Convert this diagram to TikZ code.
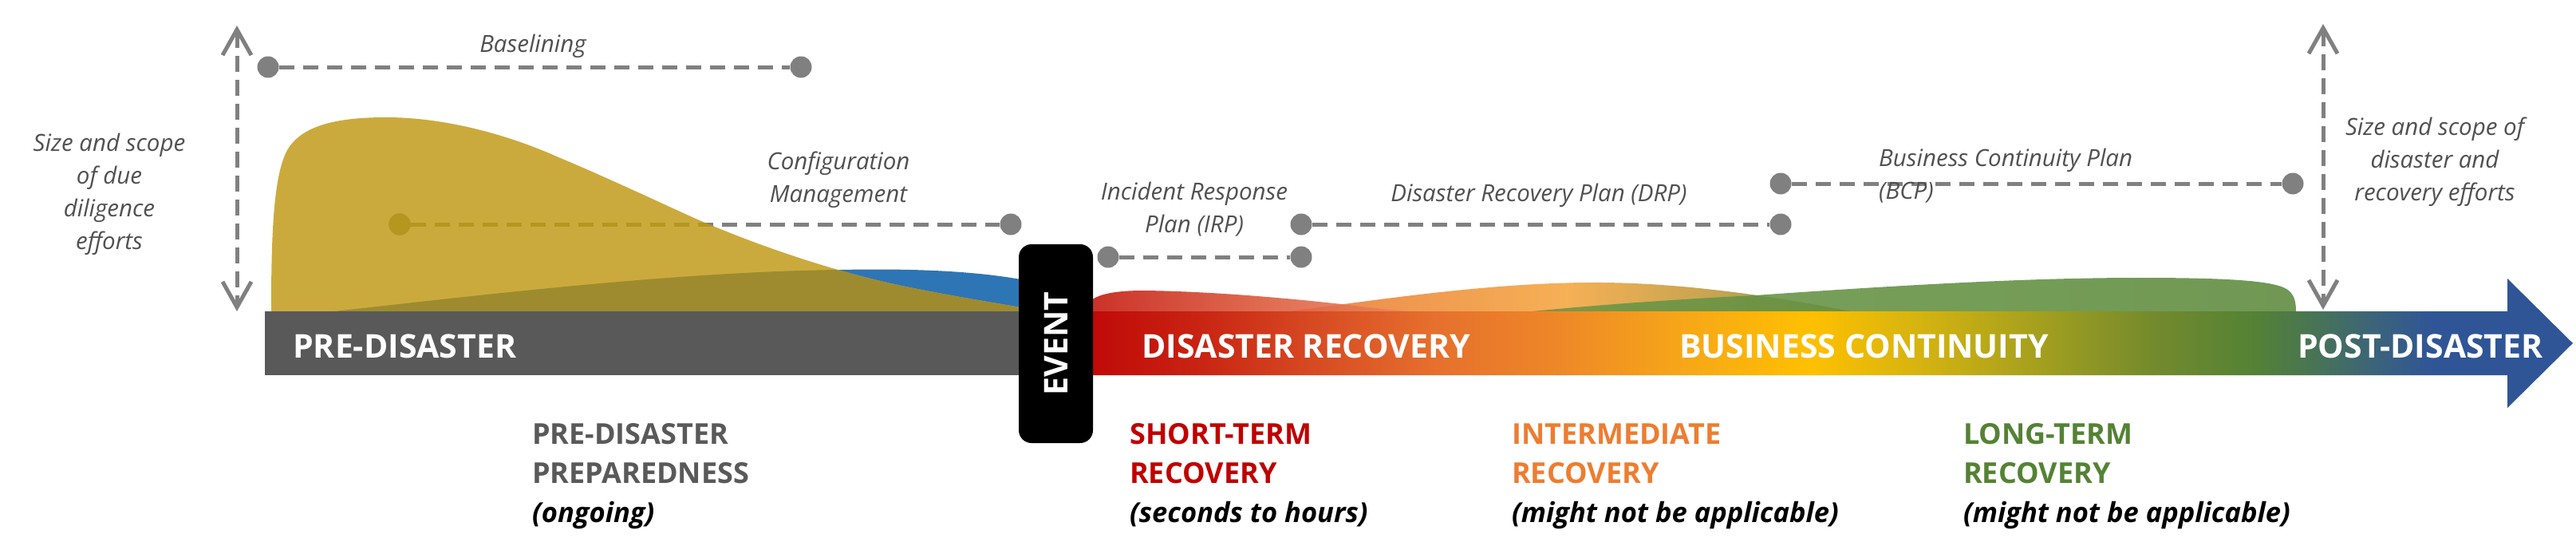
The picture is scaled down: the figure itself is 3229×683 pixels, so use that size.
\documentclass[tikz,border=0pt]{standalone}
\usepackage{fontspec}
\setmainfont{Open Sans}
\usetikzlibrary{arrows.meta}
\definecolor{txtgray}{RGB}{89,89,89}
\definecolor{lblgray}{RGB}{80,80,80}
\definecolor{dashgray}{RGB}{128,128,128}
\definecolor{yelfill}{RGB}{203,170,61}
\definecolor{olivefill}{RGB}{158,139,47}
\definecolor{goldline}{RGB}{181,150,31}
\definecolor{bluefill}{RGB}{46,117,182}
\definecolor{barred}{RGB}{192,0,0}
\definecolor{txtorange}{RGB}{237,125,49}
\definecolor{txtgreen}{RGB}{84,130,53}
\definecolor{gsA}{RGB}{192,10,8}
\definecolor{gsB}{RGB}{200,35,18}
\definecolor{gsC}{RGB}{215,75,35}
\definecolor{gsD}{RGB}{230,112,45}
\definecolor{gsE}{RGB}{238,135,40}
\definecolor{gsF}{RGB}{246,165,25}
\definecolor{gsG}{RGB}{255,192,0}
\definecolor{gsH}{RGB}{215,180,15}
\definecolor{gsI}{RGB}{160,158,32}
\definecolor{gsJ}{RGB}{115,138,45}
\definecolor{gsK}{RGB}{84,130,53}
\definecolor{gsL}{RGB}{72,116,85}
\definecolor{gsM}{RGB}{58,98,125}
\definecolor{gsN}{RGB}{47,85,151}
\pgfdeclarehorizontalshading{barshade}{100bp}{color(0bp)=(gsA); color(26.94bp)=(gsA); color(30.31bp)=(gsB); color(34.20bp)=(gsC); color(38.08bp)=(gsD); color(41.97bp)=(gsE); color(45.86bp)=(gsF); color(50.21bp)=(gsG); color(53.63bp)=(gsH); color(57.95bp)=(gsI); color(61.40bp)=(gsJ); color(64.64bp)=(gsK); color(66.58bp)=(gsL); color(68.73bp)=(gsM); color(70.47bp)=(gsN); color(100bp)=(gsN)}
\newcommand{\yelshape}{(340,392) -- (340,390) .. controls (340,300) and (342,215) .. (362,185) .. controls (380,158) and (420,147) .. (484,147) .. controls (560,147) and (640,170) .. (700,197) .. controls (760,222) and (830,255) .. (870,273) .. controls (950,308) and (1050,342) .. (1140,360) .. controls (1200,372) and (1250,380) .. (1285,386) -- (1285,392) -- cycle}
\newcommand{\blueshape}{(419,392) -- (419,390) .. controls (600,370) and (850,340) .. (1054,338) .. controls (1150,336) and (1230,340) .. (1290,352) -- (1290,392) -- cycle}
\tikzset{
  dot/.style={circle, fill=dashgray, minimum size=27pt, inner sep=0pt},
  dline/.style={draw=dashgray, line width=5pt, dash pattern=on 19pt off 11pt},
  varrow/.style={draw=dashgray, line width=5pt, dash pattern=on 20pt off 10pt, arrows={Straight Barb[length=32pt,width=36pt]-Straight Barb[length=32pt,width=36pt]}},
  lbl/.style={font=\itshape\fontsize{29.5}{41}\selectfont, text=lblgray, align=center, inner sep=0pt},
  bartxt/.style={font=\bfseries\fontsize{41}{49}\selectfont, text=white, inner sep=0pt, anchor=base west},
  phase/.style={font=\bfseries\fontsize{36}{49}\selectfont, align=left, anchor=north west, inner sep=0pt},
  evt/.style={fill=black, rounded corners=16pt, rotate=90, minimum width=249pt, minimum height=93pt, text=white, font=\bfseries\fontsize{41}{49}\selectfont, inner sep=0pt}
}
\newcommand{\sublbl}[1]{{\color{black}\itshape\fontsize{34.5}{49}\selectfont #1}}
\begin{document}
\begin{tikzpicture}[x=1pt,y=-1pt]
\useasboundingbox (0,0) rectangle (3229,683);
% pre-disaster shapes
\fill[bluefill] \blueshape;
\fill[yelfill] \yelshape;
\begin{scope}
  \clip \blueshape;
  \fill[olivefill] \yelshape;
\end{scope}
% recovery waves
\shade[left color=gsD, right color={rgb,255:red,130;green,135;blue,45}, middle color={rgb,255:red,244;green,162;blue,55}, fill opacity=0.85] (1600,392) .. controls (1700,380) and (1850,355) .. (1990,354) .. controls (2100,353) and (2220,370) .. (2330,392) -- cycle;
\shade[left color={rgb,255:red,105;green,150;blue,70}, right color={rgb,255:red,92;green,138;blue,60}, fill opacity=0.88] (1900,392) .. controls (2000,382) and (2100,375) .. (2200,370) .. controls (2400,356) and (2550,348) .. (2681,348) .. controls (2800,348) and (2858,352) .. (2870,365) .. controls (2877,372) and (2878,380) .. (2878,392) -- cycle;
\shade[left color={rgb,255:red,195;green,20;blue,10}, right color={rgb,255:red,236;green,140;blue,105}, middle color={rgb,255:red,218;green,85;blue,55}, fill opacity=0.88] (1362,392) -- (1362,385) .. controls (1366,368) and (1400,364) .. (1434,364) .. controls (1520,365) and (1620,374) .. (1690,382) .. controls (1730,387) and (1760,390) .. (1790,392) -- cycle;
% timeline bar
\fill[txtgray] (332,390) rectangle (1300,470);
\shade[shading=barshade] (1295,390) -- (3143,390) -- (3143,349) -- (3225,430) -- (3143,511) -- (3143,470) -- (1295,470) -- cycle;
\node[evt] (event) at (1323.5,430.5) {EVENT};
\node[bartxt] (tpre) at (367,448) {PRE-DISASTER};
\node[bartxt] (tdr) at (1431,448) {DISASTER RECOVERY};
\node[bartxt] (tbc) at (2105,448) {BUSINESS CONTINUITY};
\node[bartxt] (tpost) at (2880,448) {POST-DISASTER};
% dots
\node[dot] (b1) at (336,84) {};
\node[dot] (b2) at (1004,84) {};
\node[dot] (c1) at (501,281) {};
\node[dot] (c2) at (1267,281) {};
\node[dot] (i1) at (1389,322) {};
\node[dot] (i2) at (1631,322) {};
\node[dot] (d1) at (1631,281) {};
\node[dot] (d2) at (2232,281) {};
\node[dot] (s1) at (2232,230) {};
\node[dot] (s2) at (2874,230) {};
\draw[dline] (b1) -- (b2);
\draw[dline] (c1) -- (c2);
\draw[dline] (i1) -- (i2);
\draw[dline] (d1) -- (d2);
\draw[dline] (s1) -- (s2);
\begin{scope}
  \clip \yelshape;
  \draw[dline, draw=goldline] (c1) -- (c2);
  \node[dot, fill=goldline] at (c1) {};
\end{scope}
% vertical arrows
\coordinate (la1) at (297,32);
\coordinate (la2) at (297,390);
\coordinate (ra1) at (2912,30);
\coordinate (ra2) at (2912,388);
\draw[varrow] (la1) -- (la2);
\draw[varrow] (ra1) -- (ra2);
% labels
\node[lbl] (lleft) at (137,243) {Size and scope\\of due\\diligence\\efforts};
\node[lbl] (lright) at (3052,203) {Size and scope of\\disaster and\\recovery efforts};
\node[lbl] (lbase) at (668,58) {Baselining};
\node[lbl] (lconf) at (1051,225) {Configuration\\Management};
\node[lbl] (lirp) at (1497,262) {Incident Response\\Plan (IRP)};
\node[lbl] (ldrp) at (1929,245) {Disaster Recovery Plan (DRP)};
\node[lbl, align=left, anchor=west] (lbcp) at (2355,220) {Business Continuity Plan\\(BCP)};
% phase labels
\node[phase, text=txtgray] (ppre) at (667,530) {PRE-DISASTER\\PREPAREDNESS\\\sublbl{(ongoing)}};
\node[phase, text=barred] (pshort) at (1416,530) {SHORT-TERM\\RECOVERY\\\sublbl{(seconds to hours)}};
\node[phase, text=txtorange] (pinter) at (1895,530) {INTERMEDIATE\\RECOVERY\\\sublbl{(might not be applicable)}};
\node[phase, text=txtgreen] (plong) at (2461,530) {LONG-TERM\\RECOVERY\\\sublbl{(might not be applicable)}};
\end{tikzpicture}
\end{document}
